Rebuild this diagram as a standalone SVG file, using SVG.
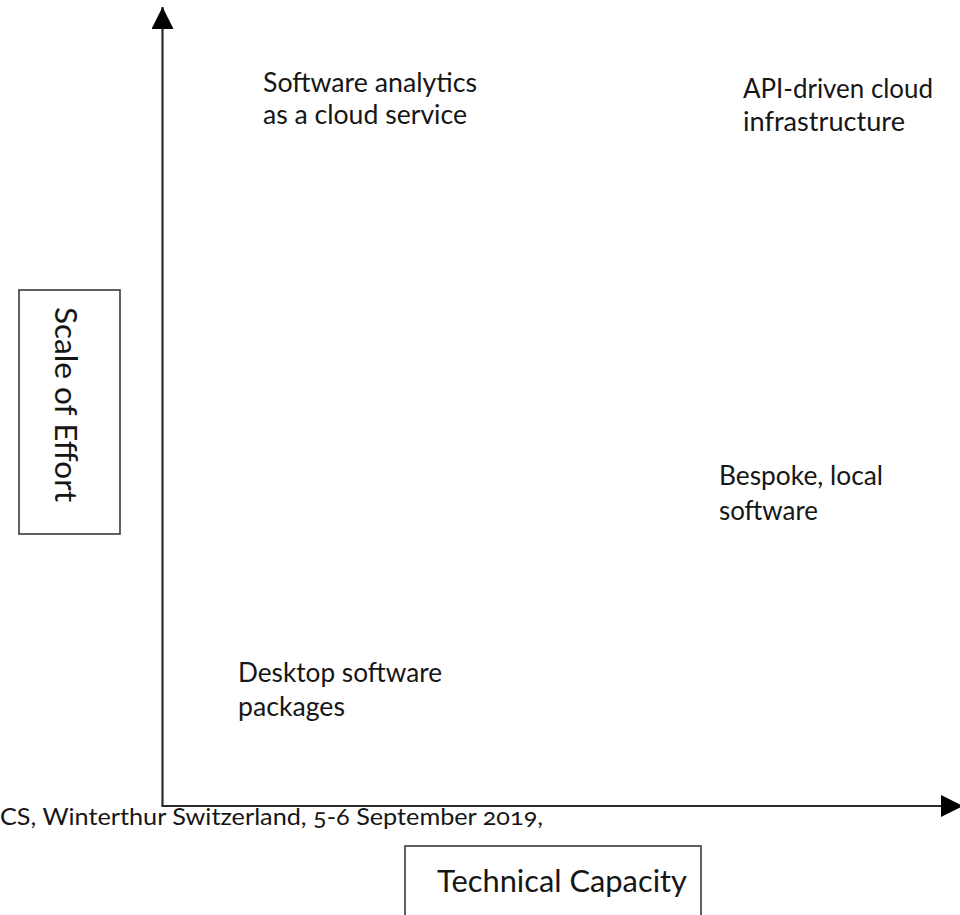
<svg xmlns="http://www.w3.org/2000/svg" width="960" height="915" viewBox="0 0 960 915">
<style>
.lbl{font-family:Lato,"Open Sans","Liberation Sans",sans-serif;font-size:26px;fill:#161616}
.ax{font-family:Lato,"Open Sans","Liberation Sans",sans-serif;font-size:30px;fill:#161616}
.cap{font-family:Lato,"Open Sans","Liberation Sans",sans-serif;font-size:23px;fill:#161616;font-variant-numeric:oldstyle-nums;font-feature-settings:"onum" 1}
.box{fill:#fff;stroke:#3a3a3a;stroke-width:1.6}
.axis{stroke:#2a2a2a;stroke-width:2.2;fill:none}
</style>
<defs>
<marker id="arr" viewBox="0 0 22 22" refX="22" refY="11" markerWidth="22" markerHeight="22" markerUnits="userSpaceOnUse" orient="auto">
<path d="M0,0 L22,11 L0,22 Z" fill="#000"/>
</marker>
</defs>
<rect width="960" height="915" fill="#fff"/>
<g id="connectors">
<line class="axis" x1="162.5" y1="806" x2="162.5" y2="7" marker-end="url(#arr)"/>
<line class="axis" x1="161.5" y1="806" x2="963" y2="806" marker-end="url(#arr)"/>
</g>
<g id="y-axis-label">
<rect class="box" x="19" y="290" width="101" height="244"/>
<text class="ax" transform="translate(55,307) rotate(90)" textLength="195" lengthAdjust="spacingAndGlyphs">Scale of Effort</text>
</g>
<g id="x-axis-label">
<rect class="box" x="405" y="846" width="296" height="80"/>
<text class="ax" x="437" y="892" textLength="250" lengthAdjust="spacingAndGlyphs">Technical Capacity</text>
</g>
<g id="software-analytics">
<text class="lbl" x="263" y="92" textLength="214" lengthAdjust="spacingAndGlyphs">Software analytics</text>
<text class="lbl" x="263" y="124" textLength="204" lengthAdjust="spacingAndGlyphs">as a cloud service</text>
</g>
<g id="api-driven">
<text class="lbl" x="743" y="98" textLength="190" lengthAdjust="spacingAndGlyphs">API-driven cloud</text>
<text class="lbl" x="743" y="131" textLength="162" lengthAdjust="spacingAndGlyphs">infrastructure</text>
</g>
<g id="bespoke">
<text class="lbl" x="719" y="485" textLength="164" lengthAdjust="spacingAndGlyphs">Bespoke, local</text>
<text class="lbl" x="719" y="520" textLength="99" lengthAdjust="spacingAndGlyphs">software</text>
</g>
<g id="desktop">
<text class="lbl" x="238" y="682" textLength="204" lengthAdjust="spacingAndGlyphs">Desktop software</text>
<text class="lbl" x="238" y="716" textLength="107" lengthAdjust="spacingAndGlyphs">packages</text>
</g>
<g id="caption">
<text class="cap" x="0" y="825" textLength="543" lengthAdjust="spacingAndGlyphs">CS, Winterthur Switzerland, 5-6 September 2019,</text>
</g>
</svg>
